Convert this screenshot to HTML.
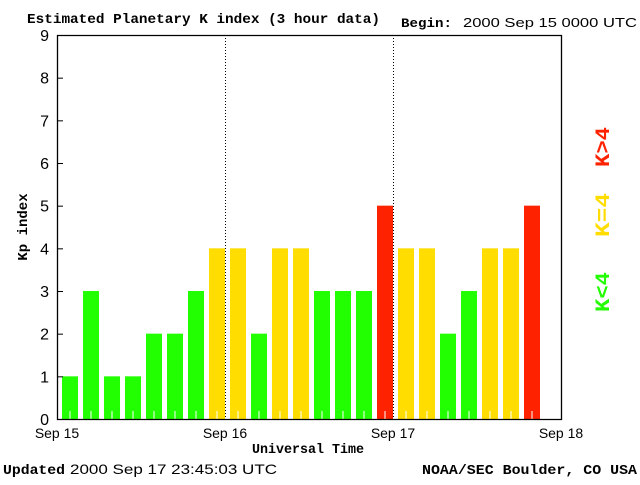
<!DOCTYPE html>
<html><head><meta charset="utf-8"><style>
body{margin:0;background:#fff;width:640px;height:480px;overflow:hidden}
text{font-family:"Liberation Mono",monospace}
.s{font-family:"Liberation Sans",sans-serif}
</style></head><body>
<svg id="c" width="640" height="480" xmlns="http://www.w3.org/2000/svg">
<text x="27" y="23" font-size="14" font-weight="bold" textLength="353" lengthAdjust="spacingAndGlyphs">Estimated Planetary K index (3 hour data)</text>
<text x="401" y="27" font-size="13" font-weight="bold" textLength="51" lengthAdjust="spacingAndGlyphs">Begin:</text>
<text x="463" y="27" font-size="13" class="s" textLength="174" lengthAdjust="spacingAndGlyphs">2000 Sep 15 0000 UTC</text>
<text x="3" y="474" font-size="14" font-weight="bold" textLength="62" lengthAdjust="spacingAndGlyphs">Updated</text>
<text x="70" y="474" font-size="14" class="s" textLength="207" lengthAdjust="spacingAndGlyphs">2000 Sep 17 23:45:03 UTC</text>
<text x="422" y="474" font-size="14" font-weight="bold" textLength="215" lengthAdjust="spacingAndGlyphs">NOAA/SEC Boulder, CO USA</text>
<text x="252" y="453" font-size="14" font-weight="bold" textLength="112" lengthAdjust="spacingAndGlyphs">Universal Time</text>
<text transform="translate(27,227) rotate(-90)" font-size="14" font-weight="bold" text-anchor="middle">Kp index</text>
<text transform="translate(609,167) rotate(-90)" font-size="20" font-weight="bold" fill="#ff2200" textLength="40" lengthAdjust="spacingAndGlyphs">K&gt;4</text>
<text transform="translate(609,237) rotate(-90)" font-size="20" font-weight="bold" fill="#ffdd00" textLength="44" lengthAdjust="spacingAndGlyphs">K=4</text>
<text transform="translate(609,312) rotate(-90)" font-size="20" font-weight="bold" fill="#22ff00" textLength="40" lengthAdjust="spacingAndGlyphs">K&lt;4</text>
<g id="plot"></g>
</svg>
<script>
const values=[1,3,1,1,2,2,3,4,4,2,4,4,3,3,3,5,4,4,2,3,4,4,5];
const dayLabels=["Sep 15","Sep 16","Sep 17","Sep 18"];
const yTicks=[0,1,2,3,4,5,6,7,8,9];
const L=57,R=561,T=35,B=419,slots=24;
const NS="http://www.w3.org/2000/svg";
const g=document.getElementById('plot');
function y(v){return B-(B-T)*v/9;}
function x(i){return L+(R-L)*i/slots;}
function mk(t,a){const e=document.createElementNS(NS,t);for(const k in a)e.setAttribute(k,a[k]);g.appendChild(e);return e;}
values.forEach((v,i)=>{
 const c=v>4?'#ff2200':(v==4?'#ffdd00':'#22ff00');
 const r=mk('rect',{x:x(i)+5,y:y(v),width:16,height:B-y(v),fill:c});
 
 
 const t=mk('line',{x1:x(i)+13,x2:x(i)+13,y1:B-8,y2:B,stroke:'#fff','stroke-width':1});
 
 
});
[1,2].forEach(d=>{
 const l=mk('line',{x1:x(d*8)+0.5,x2:x(d*8)+0.5,y1:T,y2:B,stroke:'#000','stroke-dasharray':'1,2'});
 
 
});
const ax=mk('path',{d:`M${L+.5},${T+.5}H${R+.5}V${B+.5}H${L+.5}Z`,fill:'none',stroke:'#000','stroke-width':1.3});


yTicks.forEach(v=>{
 const tk=mk('line',{x1:L,x2:L+6,y1:y(v)+.5,y2:y(v)+.5,stroke:'#000'});
 
 
 const t=mk('text',{x:49,y:y(v)+6,'font-size':16,'text-anchor':'end',class:'s'});
 t.textContent=v;
 
 
});
dayLabels.forEach((s,d)=>{
 const t=mk('text',{x:x(d*8),y:438,'font-size':14,'text-anchor':'middle',class:'s'});
 t.textContent=s;
 
 
});
</script>
</body></html>
